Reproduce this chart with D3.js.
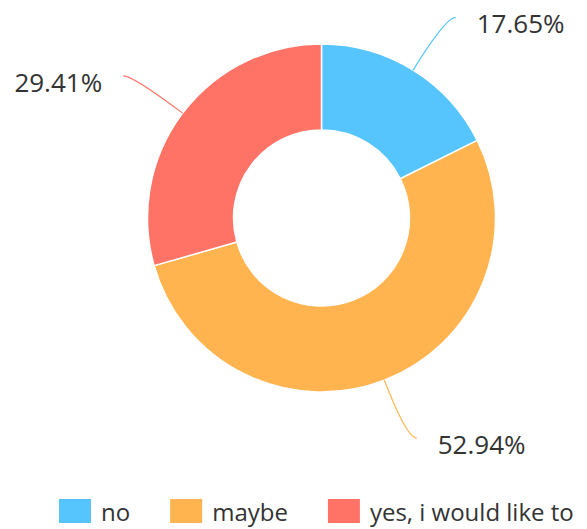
<!DOCTYPE html>
<html>
<head>
<meta charset="utf-8">
<script src="https://cdn.jsdelivr.net/npm/d3@7"></script>
<style>
  html, body { margin: 0; padding: 0; background: #fff; }
  svg { display: block; font-family: "Open Sans", sans-serif; }
</style>
</head>
<body>
<div id="chart"></div>
<script>
// survey answers
const categories = ["no", "maybe", "yes, i would like to"];
const counts = [3, 9, 5];
const colors = ["#56c5fd", "#ffb44f", "#ff7367"];

const width = 587, height = 529;
const cx = 321.5, cy = 218;
const outerR = 174, innerR = 88;

const svg = d3
  .select("#chart")
  .append("svg")
  .attr("width", width)
  .attr("height", height);

const g = svg.append("g").attr("transform", "translate(" + cx + "," + cy + ")");

const total = d3.sum(counts);
const pie = d3.pie().sort(null).value(function (d) { return d; });
const arcs = pie(counts);

const arc = d3.arc().innerRadius(innerR).outerRadius(outerR);

g.selectAll("path.slice")
  .data(arcs)
  .enter()
  .append("path")
  .attr("class", "slice")
  .attr("d", arc)
  .attr("fill", function (d, i) { return colors[i]; })
  .attr("stroke", "#fff")
  .style("stroke-width", "1.5px");

// label lines: radial out, then bend to horizontal
const lineLen = 62, tailLen = 10, textGap = 21;

arcs.forEach(function (d, i) {
  const a = (d.startAngle + d.endAngle) / 2;
  const sx = Math.sin(a), sy = -Math.cos(a);
  const A = [outerR * sx, outerR * sy];
  const B = [(outerR + lineLen) * sx, (outerR + lineLen) * sy];
  const dir = sx >= 0 ? 1 : -1;
  const C = [B[0] + dir * tailLen, B[1]];

  const p = d3.path();
  p.moveTo(A[0], A[1]);
  p.quadraticCurveTo(B[0], B[1], C[0], C[1]);

  g.append("path")
    .attr("d", p.toString())
    .attr("fill", "none")
    .attr("stroke", colors[i])
    .style("stroke-width", "1.2px");

  g.append("text")
    .attr("x", C[0] + dir * textGap)
    .attr("y", C[1] + 16)
    .attr("text-anchor", dir > 0 ? "start" : "end")
    .attr("font-size", "26px")
    .attr("fill", "#333")
    .text(((d.value / total) * 100).toFixed(2) + "%");
});

// legend
const legend = svg.append("g").attr("transform", "translate(59,499)");
let lx = 0;
categories.forEach(function (c, i) {
  const item = legend.append("g").attr("transform", "translate(" + lx + ",0)");
  item.append("rect")
    .attr("width", 32)
    .attr("height", 24)
    .attr("fill", colors[i]);
  const t = item.append("text")
    .attr("x", 42)
    .attr("y", 22)
    .attr("font-size", "24px")
    .attr("fill", "#333")
    .text(c);
  lx += 42 + t.node().getComputedTextLength() + 40;
});
</script>
</body>
</html>
